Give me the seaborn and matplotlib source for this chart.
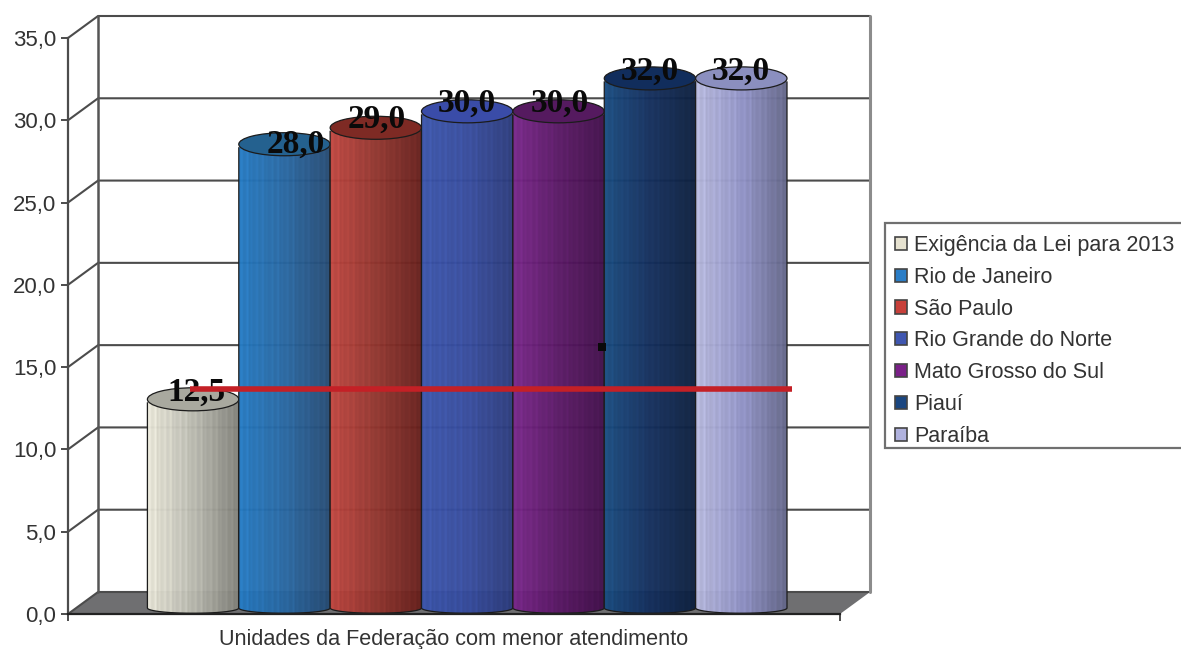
import numpy as np
import seaborn as sns
import matplotlib.pyplot as plt
from matplotlib.colors import LinearSegmentedColormap
from matplotlib.patches import Ellipse, Patch, PathPatch, Polygon, Rectangle
from matplotlib.path import Path
from matplotlib.transforms import Affine2D

# Values
states = ["Exigência da Lei para 2013", "Rio de Janeiro", "São Paulo", "Rio Grande do Norte",
          "Mato Grosso do Sul", "Piauí", "Paraíba"]
values = [12.5, 28.0, 29.0, 30.0, 30.0, 32.0, 32.0]
value_labels = ["12,5", "28,0", "29,0", "30,0", "30,0", "32,0", "32,0"]
y_ticks = [0, 5, 10, 15, 20, 25, 30, 35]
y_tick_labels = ["0,0", "5,0", "10,0", "15,0", "20,0", "25,0", "30,0", "35,0"]
requirement = 12.5
stray_x = [4.48]
stray_y = [16.2]

# Colours: left, middle and right of each cylinder, then its lid and legend swatch
body_left = ["#e6e4d6", "#2478bf", "#bd453f", "#3a53a8", "#752586", "#184a7e", "#b4b6da"]
body_mid = ["#b9b9af", "#2866a0", "#90352e", "#364b9c", "#591864", "#142e5c", "#9092c5"]
body_right = ["#81817a", "#264a72", "#66201d", "#2b3b7a", "#410f4a", "#0d203e", "#636688"]
lid_colors = ["#a9a99f", "#24618f", "#7e2a24", "#3a4ca8", "#551a5f", "#112d5c", "#8b8fbf"]
swatch_colors = ["#e6e2d0", "#2a7dc6", "#c8403a", "#3f56b0", "#7a2088", "#1a4680", "#b0b2de"]

sns.set_style("white")
plt.rcParams["font.family"] = ["Liberation Sans", "DejaVu Sans"]

fig = plt.figure(figsize=(11.81, 6.49), dpi=100)
ax = fig.add_axes([68 / 1181, 35 / 649, 772 / 1181, 576 / 649])
ax.patch.set_alpha(0)

sns.barplot(x=states, y=values, hue=states, order=states, hue_order=states, palette=swatch_colors,
            width=1.0, dodge=False, saturation=1, legend=False, ax=ax, zorder=3)
bars = list(ax.patches)

x_min, x_max = -1.369, 7.08
ax.set_xlim(x_min, x_max)
ax.set_ylim(0, 35)

# depth of the box and of the cylinders, in data units
depth_x, depth_y = 0.329, 1.337
lift = 0.365
lid_height = 1.4
lid_raise = 0.18
foot = 0.32
shift = Affine2D().translate(0, lift) + ax.transData

# Floor and back wall
ax.add_patch(Polygon([(x_min, 0), (x_min + depth_x, depth_y), (x_max + depth_x, depth_y), (x_max, 0)],
                     closed=True, facecolor="#6f6f71", edgecolor="none", clip_on=False, zorder=1))
for t in y_ticks:
    ax.plot([x_min, x_min + depth_x, x_max + depth_x], [t, t + depth_y, t + depth_y],
            color="#4c4c4c", lw=1.5, clip_on=False, zorder=2)
ax.plot([x_min + depth_x] * 2, [depth_y, 35 + depth_y], color="#555555", lw=1.8, clip_on=False, zorder=2)
ax.plot([x_max + depth_x] * 2, [depth_y, 35 + depth_y], color="#8c8c8c", lw=2.2, clip_on=False, zorder=2)

# Cylinders: gradient, outline and lid follow each seaborn bar
stripes = np.tile([1.0, 1.05, 0.98, 1.0, 1.07, 0.97, 1.02, 0.98], 6)
for i, bar in enumerate(bars):
    x0, w, h = bar.get_x(), bar.get_width(), bar.get_height()
    z = 3 + i * 0.1
    bar.set_alpha(0)
    cmap = LinearSegmentedColormap.from_list("body", [body_left[i], body_mid[i], body_right[i]])
    strip = cmap(np.linspace(0, 1, len(stripes)))
    strip[:, :3] = np.clip(strip[:, :3] * stripes[:, None], 0, 1)
    im = ax.imshow(strip[None, :, :], extent=(x0, x0 + w, -foot, h), aspect="auto", alpha=0.97,
                   interpolation="bilinear", transform=shift, zorder=z)
    theta = np.linspace(np.pi, 2 * np.pi, 40)
    arc = np.column_stack([x0 + w / 2 + w / 2 * np.cos(theta), foot * np.sin(theta)])
    side = np.vstack([[x0, h], arc, [x0 + w, h]])
    im.set_clip_path(Path(np.vstack([side, side[0]]), closed=True), shift)
    ax.add_patch(PathPatch(Path(side), fill=False, edgecolor="#1c1c1c", lw=0.9, transform=shift,
                           clip_on=False, zorder=z + 0.01))
    ax.add_patch(Ellipse((x0 + w / 2, h + lid_raise), w, lid_height, facecolor=lid_colors[i],
                         edgecolor="#1c1c1c", lw=0.9, transform=shift, clip_on=False, zorder=z + 0.02))

ax.set_xlim(x_min, x_max)
ax.set_ylim(0, 35)

# Value labels, a little off the centre as in the picture
label_dx = [3, 11, 1, 0, 1, 0, -1]
label_dy = [16, 9, 17, 17, 17, 16, 16]
for i, bar in enumerate(bars):
    ax.annotate(value_labels[i], (bar.get_x() + bar.get_width() / 2, bar.get_height()),
                xytext=(label_dx[i], label_dy[i]), textcoords="offset pixels", ha="center", va="center",
                family="Liberation Serif", fontweight="bold", fontsize=24, color="#0a0a0a",
                annotation_clip=False, zorder=5)

# Requirement line from the first cylinder to the far edge of the last one
line_x = [bars[0].get_x() + bars[0].get_width() / 2 - 0.03, bars[-1].get_x() + bars[-1].get_width() * 1.05]
line_y = [requirement + 1.17] * 2
sns.lineplot(x=line_x, y=line_y, color="#c42026", lw=4, solid_capstyle="butt", ax=ax, zorder=6)
sns.scatterplot(x=stray_x, y=stray_y, marker="s", s=28, color="#0a0a0a", linewidth=0, ax=ax, zorder=7)

# Front axes
sns.despine(ax=ax, top=True, right=True)
for side_name in ["left", "bottom"]:
    ax.spines[side_name].set_color("#4c4c4c")
    ax.spines[side_name].set_linewidth(1.6)
    ax.spines[side_name].set_zorder(8)
ax.spines["bottom"].set_color("#222222")
ax.set_yticks(y_ticks, labels=y_tick_labels)
ax.set_xticks([x_min, x_max], labels=["", ""])
ax.tick_params(axis="both", left=True, bottom=True, length=5, width=1.4, color="#4c4c4c",
               labelcolor="#333333", labelsize=16, pad=3.5)
ax.set_xlabel("Unidades da Federação com menor atendimento", fontsize=15.6, color="#333333", labelpad=2.5)

# Legend: the frame runs off the right edge of the picture, as in the reference
ax.add_patch(Rectangle((885 / 1181, 1 - 448 / 649), 320 / 1181, 225 / 649, transform=fig.transFigure,
                       facecolor="white", edgecolor="#707070", lw=1.6, clip_on=False, zorder=8.5))
handles = [Patch(facecolor=c, edgecolor="#444444", lw=1.2) for c in swatch_colors]
leg = ax.legend(handles, states, loc="upper left", bbox_to_anchor=(885 / 1181, 1 - 225 / 649),
                bbox_transform=fig.transFigure, borderaxespad=0, fontsize=15.5, frameon=False,
                handlelength=0.56, handleheight=0.56, handletextpad=0.33,
                labelspacing=0.50, borderpad=0.47, labelcolor="#333333")
leg.set_zorder(9)

plt.savefig("out.png", dpi=100)
